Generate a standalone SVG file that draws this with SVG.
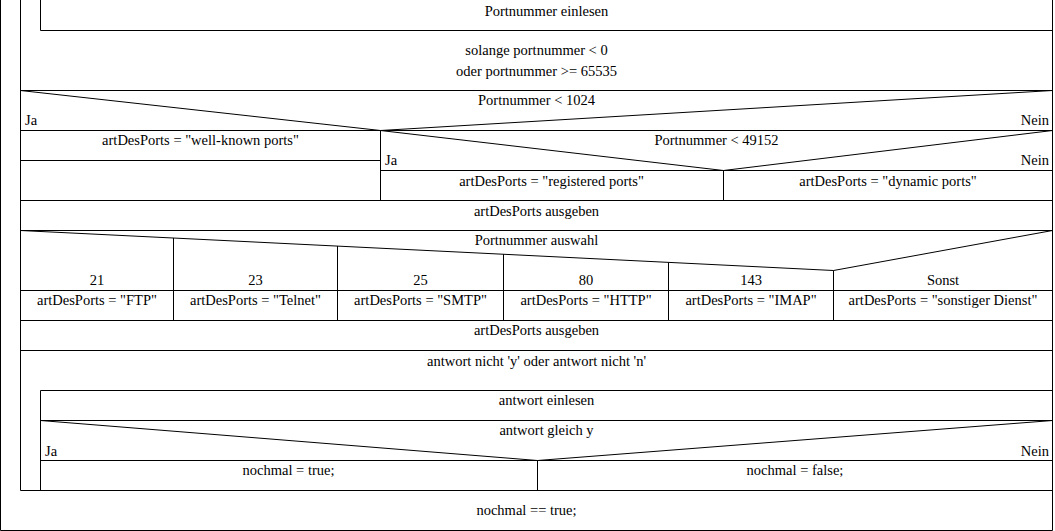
<svg xmlns="http://www.w3.org/2000/svg" width="1055" height="531" viewBox="0 0 1055 531">
<style>
.ln{stroke:#000;stroke-width:1;fill:none;}
text{font-family:"Liberation Serif","Times New Roman",serif;font-size:14.5px;fill:#000;stroke:none;}
.c{text-anchor:middle;}
.r{text-anchor:end;}
</style>
<rect x="0" y="0" width="1055" height="531" fill="#fff"/>
<g id="outer-loop">
  <polyline class="ln" points="0.5,0 0.5,530.5 1052.5,530.5 1052.5,0"/>
  <line class="ln" x1="20.5" y1="0" x2="20.5" y2="490.5"/>
  <line class="ln" x1="20.5" y1="490.5" x2="1052.5" y2="490.5"/>
  <text x="526.5" y="515" class="c">nochmal == true;</text>
</g>
<g id="port-loop">
  <line class="ln" x1="40.5" y1="0" x2="40.5" y2="30.5"/>
  <line class="ln" x1="40.5" y1="30.5" x2="1052.5" y2="30.5"/>
  <text x="546.5" y="16" class="c">Portnummer einlesen</text>
  <text x="536.5" y="55" class="c">solange portnummer &lt; 0</text>
  <text x="536.5" y="76" class="c">oder portnummer &gt;= 65535</text>
</g>
<g id="if-1024">
  <line class="ln" x1="20.5" y1="90.5" x2="1052.5" y2="90.5"/>
  <polyline class="ln" points="20.5,90.5 380.5,130.5 1052.5,90.5"/>
  <line class="ln" x1="20.5" y1="130.5" x2="1052.5" y2="130.5"/>
  <text x="536.5" y="105" class="c">Portnummer &lt; 1024</text>
  <text x="25" y="125">Ja</text>
  <text x="1049" y="125" class="r">Nein</text>
</g>
<g id="well-known">
  <line class="ln" x1="20.5" y1="160.5" x2="380.5" y2="160.5"/>
  <text x="200.5" y="145" class="c">artDesPorts = "well-known ports"</text>
</g>
<g id="if-49152">
  <line class="ln" x1="380.5" y1="130.5" x2="380.5" y2="200.5"/>
  <polyline class="ln" points="380.5,130.5 723.5,170.5 1052.5,130.5"/>
  <line class="ln" x1="380.5" y1="170.5" x2="1052.5" y2="170.5"/>
  <text x="716.5" y="145" class="c">Portnummer &lt; 49152</text>
  <text x="385" y="165">Ja</text>
  <text x="1049" y="165" class="r">Nein</text>
</g>
<g id="registered">
  <text x="551.5" y="186" class="c">artDesPorts = "registered ports"</text>
</g>
<g id="dynamic">
  <line class="ln" x1="723.5" y1="170.5" x2="723.5" y2="200.5"/>
  <text x="888" y="186" class="c">artDesPorts = "dynamic ports"</text>
</g>
<g id="ausgeben-1">
  <line class="ln" x1="20.5" y1="200.5" x2="1052.5" y2="200.5"/>
  <line class="ln" x1="20.5" y1="230.5" x2="1052.5" y2="230.5"/>
  <text x="536.5" y="216" class="c">artDesPorts ausgeben</text>
</g>
<g id="case">
  <polyline class="ln" points="20.5,230.5 833.5,270.5 1052.5,230.5"/>
  <line class="ln" x1="173.5" y1="238" x2="173.5" y2="320.5"/>
  <line class="ln" x1="337.5" y1="246" x2="337.5" y2="320.5"/>
  <line class="ln" x1="503.5" y1="254.2" x2="503.5" y2="320.5"/>
  <line class="ln" x1="668.5" y1="262.4" x2="668.5" y2="320.5"/>
  <line class="ln" x1="833.5" y1="270.5" x2="833.5" y2="320.5"/>
  <line class="ln" x1="20.5" y1="290.5" x2="1052.5" y2="290.5"/>
  <text x="536.5" y="245" class="c">Portnummer auswahl</text>
  <text x="97" y="285" class="c">21</text>
  <text x="255.5" y="285" class="c">23</text>
  <text x="420.5" y="285" class="c">25</text>
  <text x="586" y="285" class="c">80</text>
  <text x="751" y="285" class="c">143</text>
  <text x="943" y="285" class="c">Sonst</text>
  <text x="97" y="305" class="c">artDesPorts = "FTP"</text>
  <text x="255.5" y="305" class="c">artDesPorts = "Telnet"</text>
  <text x="420.5" y="305" class="c">artDesPorts = "SMTP"</text>
  <text x="586" y="305" class="c">artDesPorts = "HTTP"</text>
  <text x="751" y="305" class="c">artDesPorts = "IMAP"</text>
  <text x="943" y="305" class="c">artDesPorts = "sonstiger Dienst"</text>
</g>
<g id="ausgeben-2">
  <line class="ln" x1="20.5" y1="320.5" x2="1052.5" y2="320.5"/>
  <line class="ln" x1="20.5" y1="350.5" x2="1052.5" y2="350.5"/>
  <text x="536.5" y="335" class="c">artDesPorts ausgeben</text>
</g>
<g id="antwort-loop">
  <text x="536.5" y="366" class="c">antwort nicht 'y' oder antwort nicht 'n'</text>
  <line class="ln" x1="40.5" y1="390.5" x2="40.5" y2="490.5"/>
  <line class="ln" x1="40.5" y1="390.5" x2="1052.5" y2="390.5"/>
</g>
<g id="antwort-einlesen">
  <line class="ln" x1="40.5" y1="420.5" x2="1052.5" y2="420.5"/>
  <text x="546.5" y="405" class="c">antwort einlesen</text>
</g>
<g id="if-antwort">
  <polyline class="ln" points="40.5,420.5 537.5,460.5 1052.5,420.5"/>
  <line class="ln" x1="40.5" y1="460.5" x2="1052.5" y2="460.5"/>
  <text x="546.5" y="435" class="c">antwort gleich y</text>
  <text x="45" y="456">Ja</text>
  <text x="1049" y="456" class="r">Nein</text>
</g>
<g id="nochmal-true">
  <text x="288.5" y="475" class="c">nochmal = true;</text>
</g>
<g id="nochmal-false">
  <line class="ln" x1="537.5" y1="460.5" x2="537.5" y2="490.5"/>
  <text x="795" y="475" class="c">nochmal = false;</text>
</g>
</svg>
